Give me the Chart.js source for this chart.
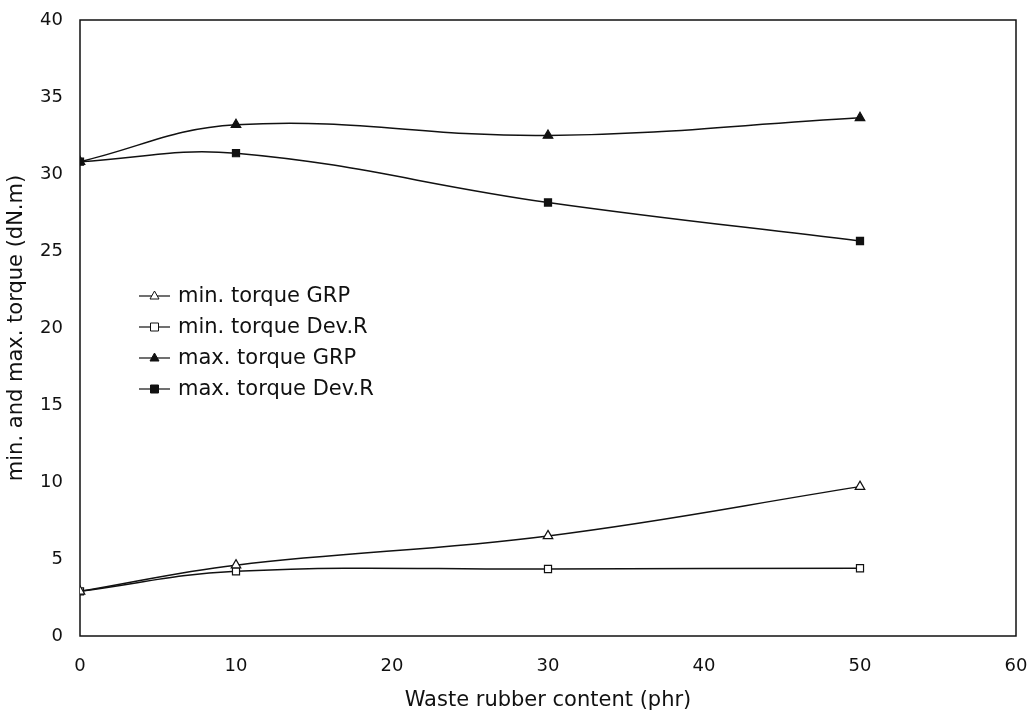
<!DOCTYPE html>
<html>
<head>
<meta charset="utf-8">
<style>
  html, body { margin: 0; padding: 0; background: #fff; }
  #wrap { width: 1029px; height: 717px; position: relative; }
</style>
<script src="https://cdn.jsdelivr.net/npm/chart.js@4/dist/chart.umd.min.js"></script>
</head>
<body>
<div id="wrap"><canvas id="c" width="1029" height="717"></canvas></div>
<script>
// Waste rubber content (phr)
const content = [0, 10, 30, 50];
// Torque values (dN.m)
const minTorqueGRP  = [2.9, 4.6, 6.5, 9.7];
const minTorqueDevR = [2.9, 4.2, 4.35, 4.4];
const maxTorqueGRP  = [30.8, 33.2, 32.5, 33.65];
const maxTorqueDevR = [30.8, 31.35, 28.15, 25.65];
const seriesNames = ['min. torque GRP', 'min. torque Dev.R', 'max. torque GRP', 'max. torque Dev.R'];
const xTicks = [0, 10, 20, 30, 40, 50, 60];
const yTicks = [0, 5, 10, 15, 20, 25, 30, 35, 40];

const INK = '#111';
const FONT = '"DejaVu Sans", "Liberation Sans", Arial, sans-serif';

function pts(vals) { return content.map((x, i) => ({ x: x, y: vals[i] })); }

function series(label, vals, style, filled) {
  return {
    label: label,
    data: pts(vals),
    borderColor: INK,
    borderWidth: 1.5,
    tension: 0.4,
    pointStyle: style,
    pointRadius: style === 'triangle' ? 5.5 : 5,
    pointBorderWidth: 1.2,
    pointBorderColor: INK,
    pointBackgroundColor: filled ? INK : '#fff',
    fill: false
  };
}

// Legend drawn inside the plot area
const innerLegend = {
  id: 'innerLegend',
  afterDatasetsDraw(chart) {
    const ctx = chart.ctx;
    const x0 = 139, x1 = 170, tx = 178;
    const rows = [296, 327, 358, 389];
    ctx.save();
    chart.data.datasets.forEach((ds, i) => {
      const y = rows[i];
      ctx.strokeStyle = INK;
      ctx.lineWidth = 1.2;
      ctx.beginPath(); ctx.moveTo(x0, y); ctx.lineTo(x1, y); ctx.stroke();
      const cx = (x0 + x1) / 2;
      ctx.fillStyle = ds.pointBackgroundColor;
      ctx.lineWidth = 1;
      ctx.beginPath();
      if (ds.pointStyle === 'triangle') {
        ctx.moveTo(cx, y - 5); ctx.lineTo(cx + 4.5, y + 3); ctx.lineTo(cx - 4.5, y + 3); ctx.closePath();
      } else {
        ctx.rect(cx - 4, y - 4, 8, 8);
      }
      ctx.fill(); ctx.stroke();
      ctx.fillStyle = INK;
      ctx.font = '21px ' + FONT;
      ctx.textBaseline = 'middle';
      ctx.textAlign = 'left';
      ctx.fillText(ds.label, tx, y + 1);
    });
    ctx.restore();
  }
};

// Full frame around the plot area
const frame = {
  id: 'frame',
  beforeDatasetsDraw(chart) {
    const a = chart.chartArea, ctx = chart.ctx;
    ctx.save();
    ctx.strokeStyle = INK;
    ctx.lineWidth = 1.5;
    ctx.strokeRect(a.left, a.top, a.right - a.left, a.bottom - a.top);
    ctx.restore();
  }
};

new Chart(document.getElementById('c'), {
  type: 'line',
  data: {
    datasets: [
      series(seriesNames[0], minTorqueGRP, 'triangle', false),
      series(seriesNames[1], minTorqueDevR, 'rect', false),
      series(seriesNames[2], maxTorqueGRP, 'triangle', true),
      series(seriesNames[3], maxTorqueDevR, 'rect', true)
    ]
  },
  options: {
    responsive: false,
    animation: false,
    layout: { padding: { left: 0, top: 20, right: 13, bottom: 0 } },
    plugins: { legend: { display: false }, tooltip: { enabled: false } },
    scales: {
      x: {
        type: 'linear',
        min: 0, max: 60,
        afterBuildTicks(s) { s.ticks = xTicks.map(v => ({ value: v })); },
        afterFit(s) { s.height = 81; s.paddingLeft = 0; s.paddingRight = 0; },
        grid: { display: false, drawTicks: false },
        border: { display: false },
        ticks: { color: INK, font: { family: FONT, size: 18 }, padding: 20 },
        title: { display: true, text: 'Waste rubber content (phr)', color: INK,
                 font: { family: FONT, size: 21 }, padding: { top: 11 } }
      },
      y: {
        type: 'linear',
        min: 0, max: 40,
        afterBuildTicks(s) { s.ticks = yTicks.map(v => ({ value: v })); },
        afterFit(s) { s.width = 80; s.paddingTop = 0; s.paddingBottom = 0; },
        grid: { display: false, drawTicks: false },
        border: { display: false },
        ticks: { color: INK, font: { family: FONT, size: 18 }, padding: 17 },
        title: { display: true, text: 'min. and max. torque (dN.m)', color: INK,
                 font: { family: FONT, size: 21 }, padding: { top: 4, bottom: 1 } }
      }
    }
  },
  plugins: [frame, innerLegend]
});
</script>
</body>
</html>
